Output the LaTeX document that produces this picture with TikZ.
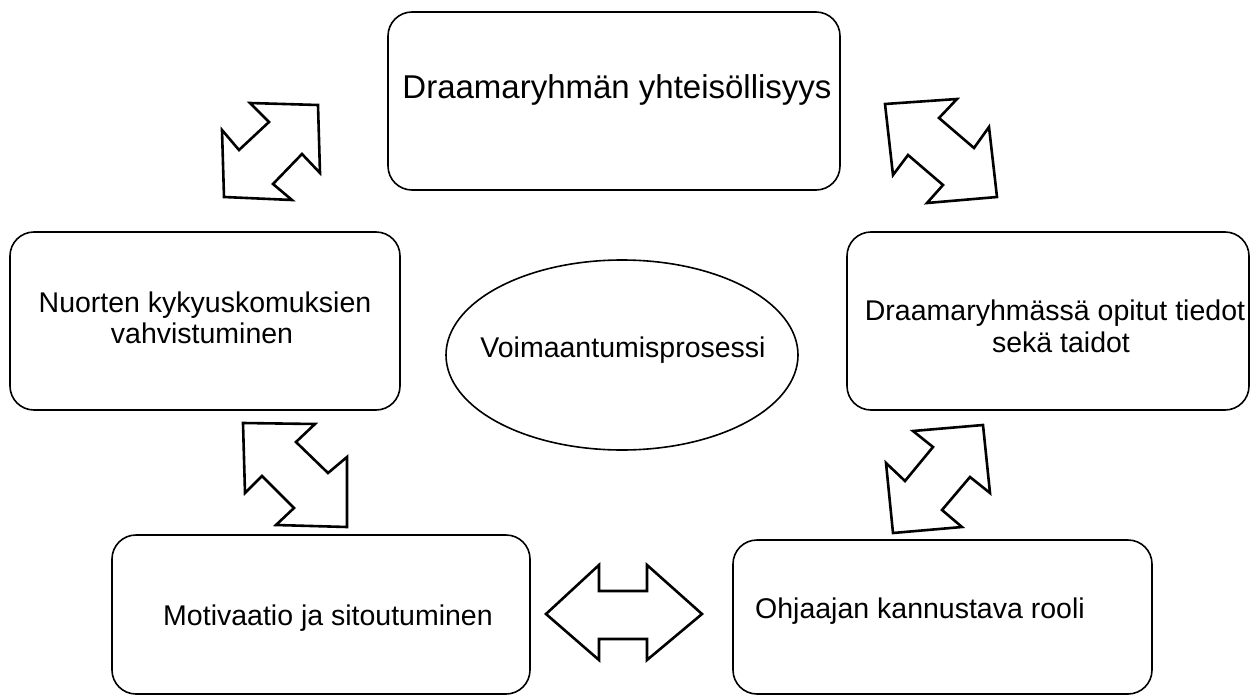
\documentclass[tikz,border=0pt]{standalone}
\usepackage{fontspec}
\setmainfont{Liberation Sans}
\usetikzlibrary{shapes.geometric}
\begin{document}
\begin{tikzpicture}[x=1pt,y=-1pt,
  box/.style={draw=black,line width=1.6pt,rounded corners=24pt,inner sep=0pt},
  lbl/.style={font=\fontsize{28.5}{32}\selectfont,inner sep=0pt,anchor=base},
  biglbl/.style={font=\fontsize{33}{38}\selectfont,inner sep=0pt,anchor=base},
  dbl/.style={draw=black,line width=2.6pt,fill=white,line join=miter}]
\useasboundingbox (0,0) rectangle (1251,696);
% boxes
\node[box,minimum width=452pt,minimum height=178pt] (top) at (614,101) {};
\node[box,minimum width=390pt,minimum height=178pt] (left) at (205,321) {};
\node[box,minimum width=402pt,minimum height=178pt] (right) at (1048,321) {};
\node[box,minimum width=418pt,minimum height=159pt] (bl) at (321,614.5) {};
\node[box,minimum width=419pt,minimum height=154pt] (br) at (942.5,617) {};
\node[draw=black,line width=1.6pt,ellipse,minimum width=352pt,minimum height=190pt,inner sep=0pt] (ell) at (622,355) {};
% texts
\node[biglbl] (toptext) at (617,98) {Draamaryhmän yhteisöllisyys};
\node[lbl] (lefttext1) at (205,312) {Nuorten kykyuskomuksien};
\node[lbl] (lefttext2) at (202,343) {vahvistuminen};
\node[lbl] (righttext1) at (1055,320) {Draamaryhmässä opitut tiedot};
\node[lbl] (righttext2) at (1061,352) {sekä taidot};
\node[lbl] (elltext) at (623,357) {Voimaantumisprosessi};
\node[lbl] (bltext) at (328,625) {Motivaatio ja sitoutuminen};
\node[lbl,anchor=base west] (brtext) at (755,618) {Ohjaajan kannustava rooli};
% double arrows
\draw[dbl] (250,103) -- (318,105) -- (320,173) -- (302,154) -- (273,184) -- (292,200) -- (224,197) -- (222,130) -- (239,150) -- (269,122) -- cycle;
\draw[dbl] (885,104) -- (957,99) -- (939,118) -- (974,148) -- (989,127) -- (997,197) -- (927,203) -- (943,185) -- (908,155) -- (893,175) -- cycle;
\draw[dbl] (243,423) -- (315,424) -- (296,442) -- (328,473) -- (347,457) -- (347,527) -- (276,525) -- (294,508) -- (262,476) -- (245,493) -- cycle;
\draw[dbl] (913,431) -- (983,425) -- (990,493) -- (970,477) -- (942,510) -- (962,527) -- (893,533) -- (886,463) -- (905,481) -- (933,447) -- cycle;
\draw[dbl] (546,614) -- (599,565) -- (599,591) -- (647,591) -- (647,565) -- (702,614) -- (647,660) -- (647,639) -- (599,639) -- (599,660) -- cycle;
\end{tikzpicture}
\end{document}
